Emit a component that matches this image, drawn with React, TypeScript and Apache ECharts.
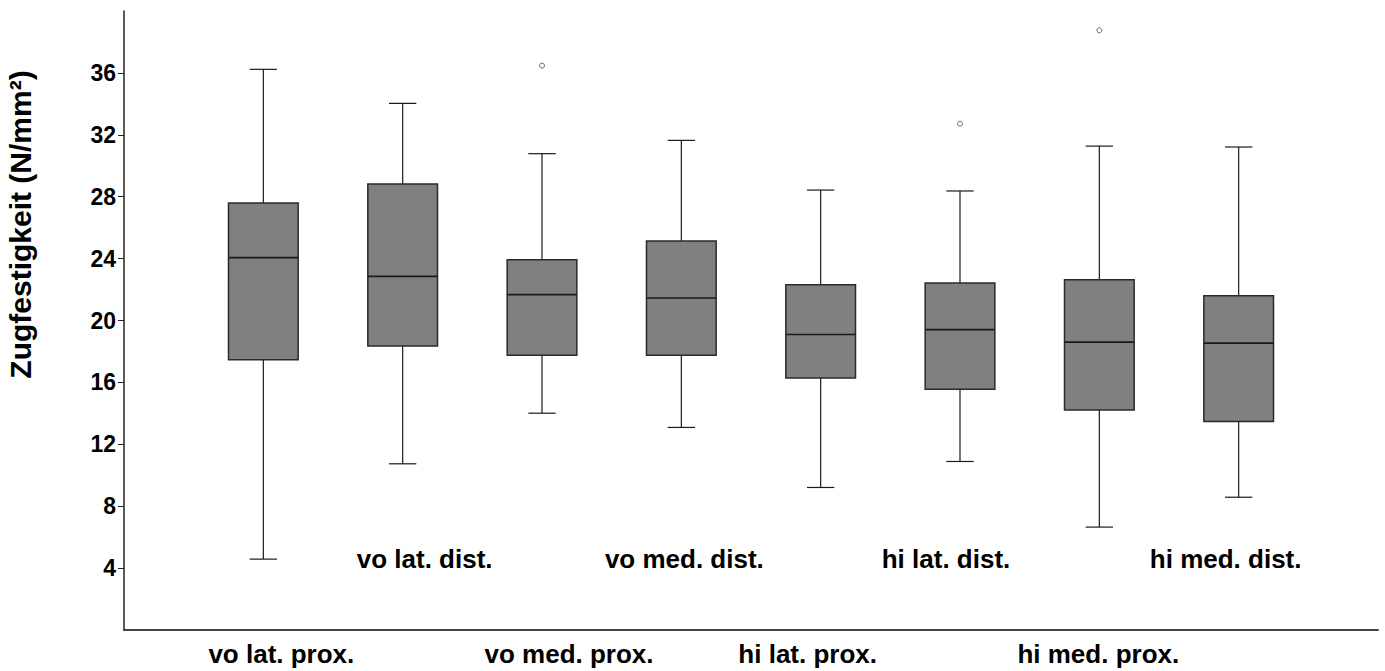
import React, { useEffect, useRef } from "react";
import * as echarts from "echarts";

// Group labels, in order along the axis (odd ones below the axis, even ones inside)
const groups = [
  "vo lat. prox.",
  "vo lat. dist.",
  "vo med. prox.",
  "vo med. dist.",
  "hi lat. prox.",
  "hi lat. dist.",
  "hi med. prox.",
  "hi med. dist.",
];

// Five-number summaries, tensile strength in N/mm²
const whiskerLow = [4.58, 10.74, 14.01, 13.09, 9.21, 10.89, 6.65, 8.58];
const quartile1 = [17.47, 18.35, 17.76, 17.76, 16.28, 15.55, 14.21, 13.48];
const medians = [24.06, 22.85, 21.67, 21.45, 19.1, 19.41, 18.6, 18.54];
const quartile3 = [27.6, 28.82, 23.93, 25.13, 22.31, 22.42, 22.64, 21.6];
const whiskerHigh = [36.23, 34.03, 30.78, 31.64, 28.43, 28.37, 31.27, 31.21];

// Outliers: group number (1-based) and value
const outlierGroup = [3, 6, 7];
const outlierValue = [36.47, 32.72, 38.75];

// Y axis tick labels
const yTicks = [4, 8, 12, 16, 20, 24, 28, 32, 36];

// Horizontal nudge of each group label, in px
const labelShift = [18, 22, 27, 3, -13, -14, -1, -13];

const FONT = "'Liberation Sans', Arial, sans-serif";

function richFor(indices: number[]) {
  const rich: Record<string, any> = {};
  indices.forEach((i) => {
    const s = labelShift[i];
    rich["s" + i] = {
      fontSize: 26,
      fontWeight: "bold",
      fontFamily: FONT,
      color: "#000",
      padding: s >= 0 ? [0, 0, 0, 2 * s] : [0, -2 * s, 0, 0],
    };
  });
  return rich;
}

export default function App() {
  const ref = useRef<HTMLDivElement>(null);

  useEffect(() => {
    if (!ref.current) return;
    const chart = echarts.init(ref.current, null, { renderer: "svg" });

    const boxData = groups.map((_, i) => [
      i + 1,
      whiskerLow[i],
      quartile1[i],
      medians[i],
      quartile3[i],
      whiskerHigh[i],
    ]);
    const outliers = outlierGroup.map((g, i) => [g, outlierValue[i]]);

    const lowerIdx = [0, 2, 4, 6];
    const upperIdx = [1, 3, 5, 7];

    const option: any = {
      animation: false,
      backgroundColor: "#fff",
      grid: {
        left: 124,
        right: 7,
        top: 11,
        bottom: 41,
        containLabel: false,
        outerBoundsMode: "none",
      },
      xAxis: [
        {
          type: "value",
          min: 0,
          max: 9,
          interval: 1,
          splitLine: { show: false },
          axisTick: { show: false },
          axisLine: { show: true, lineStyle: { color: "#444", width: 2 } },
          axisLabel: {
            customValues: lowerIdx.map((i) => i + 1),
            margin: 11,
            formatter: (v: number) => {
              const i = Math.round(v) - 1;
              return `{s${i}|${groups[i]}}`;
            },
            rich: richFor(lowerIdx),
          },
        },
        {
          type: "value",
          min: 0,
          max: 9,
          interval: 1,
          position: "bottom",
          offset: -84,
          splitLine: { show: false },
          axisTick: { show: false },
          axisLine: { show: false },
          axisLabel: {
            customValues: upperIdx.map((i) => i + 1),
            margin: 0,
            formatter: (v: number) => {
              const i = Math.round(v) - 1;
              return `{s${i}|${groups[i]}}`;
            },
            rich: richFor(upperIdx),
          },
        },
      ],
      yAxis: {
        type: "value",
        min: 0,
        max: 40,
        interval: 4,
        splitLine: { show: false },
        axisLine: { show: true, lineStyle: { color: "#222", width: 1.5 } },
        axisTick: {
          show: true,
          length: 6,
          customValues: yTicks,
          lineStyle: { color: "#222", width: 1 },
        },
        axisLabel: {
          customValues: yTicks,
          margin: 8,
          fontSize: 23,
          fontWeight: "bold",
          fontFamily: FONT,
          color: "#000",
        },
        name: "Zugfestigkeit (N/mm²)",
        nameLocation: "middle",
        nameRotate: 90,
        nameGap: 89,
        nameTextStyle: {
          fontSize: 30,
          fontWeight: "bold",
          fontFamily: FONT,
          color: "#000",
          padding: [0, 0, 0, 192],
        },
      },
      series: [
        {
          type: "custom",
          xAxisIndex: 0,
          yAxisIndex: 0,
          encode: { x: 0, y: [1, 2, 3, 4, 5] },
          data: boxData,
          renderItem: (_params: any, api: any) => {
            const x = api.value(0);
            const pLow = api.coord([x, api.value(1)]);
            const pQ1 = api.coord([x, api.value(2)]);
            const pMed = api.coord([x, api.value(3)]);
            const pQ3 = api.coord([x, api.value(4)]);
            const pHigh = api.coord([x, api.value(5)]);
            const unit = api.size([1, 0])[0];
            const half = unit * 0.25;
            const cap = unit * 0.098;
            const cx = pMed[0];
            const whisker = { stroke: "#1a1a1a", lineWidth: 1.2 };
            return {
              type: "group",
              children: [
                {
                  type: "line",
                  shape: { x1: cx, y1: pHigh[1], x2: cx, y2: pQ3[1] },
                  style: whisker,
                },
                {
                  type: "line",
                  shape: { x1: cx, y1: pQ1[1], x2: cx, y2: pLow[1] },
                  style: whisker,
                },
                {
                  type: "line",
                  shape: { x1: cx - cap, y1: pHigh[1], x2: cx + cap, y2: pHigh[1] },
                  style: whisker,
                },
                {
                  type: "line",
                  shape: { x1: cx - cap, y1: pLow[1], x2: cx + cap, y2: pLow[1] },
                  style: whisker,
                },
                {
                  type: "rect",
                  shape: {
                    x: cx - half,
                    y: pQ3[1],
                    width: half * 2,
                    height: pQ1[1] - pQ3[1],
                  },
                  style: { fill: "#808080", stroke: "#2a2a2a", lineWidth: 1.5 },
                },
                {
                  type: "line",
                  shape: { x1: cx - half, y1: pMed[1], x2: cx + half, y2: pMed[1] },
                  style: { stroke: "#1a1a1a", lineWidth: 1.6 },
                },
              ],
            };
          },
        },
        {
          type: "scatter",
          xAxisIndex: 0,
          yAxisIndex: 0,
          data: outliers,
          symbol: "circle",
          symbolSize: 5,
          itemStyle: { color: "#fff", borderColor: "#444", borderWidth: 1 },
        },
      ],
    };

    chart.setOption(option);
    return () => chart.dispose();
  }, []);

  return (
    <div
      ref={ref}
      style={{ position: "absolute", left: 0, top: 0, width: 1385, height: 671 }}
    />
  );
}
